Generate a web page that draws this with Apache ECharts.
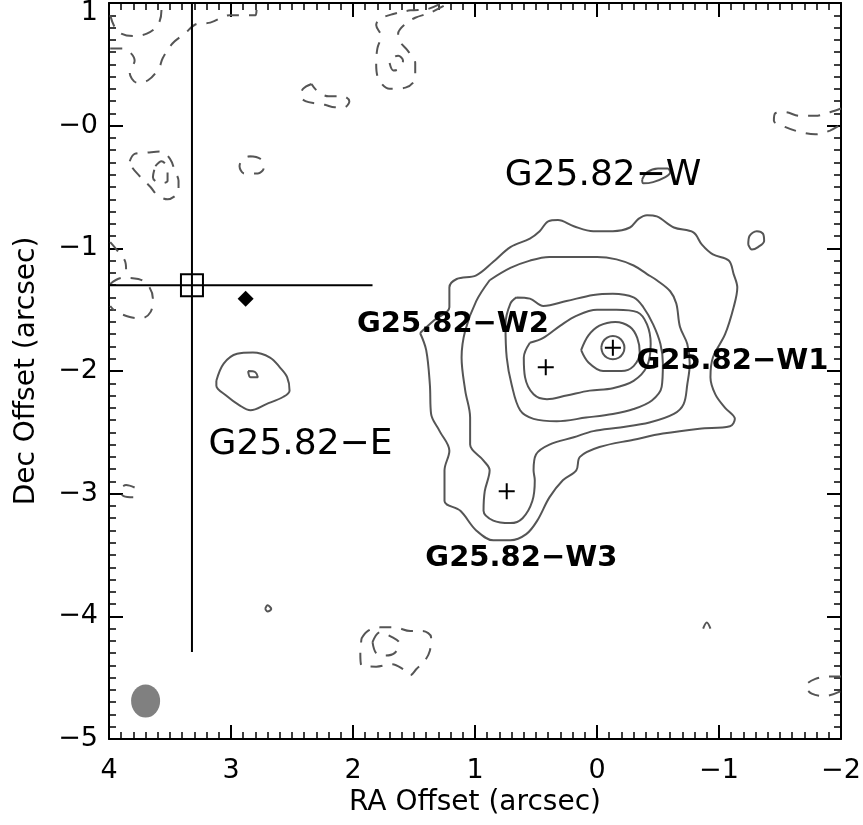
<!DOCTYPE html>
<html>
<head>
<meta charset="utf-8">
<title>G25.82 contours</title>
<script src="https://cdn.jsdelivr.net/npm/echarts@6/dist/echarts.min.js"></script>
<style>
  html, body { margin: 0; padding: 0; background: #fff; }
  #chart { width: 863px; height: 825px; }
</style>
</head>
<body>
<div id="chart"></div>
<script>
// all positions are [RA offset, Dec offset] in arcsec

// positive (solid) contours of G25.82-W, outer to inner
const wLevel1 = [[1.45,-1.69],[1.34,-1.59],[1.21,-1.48],[1.21,-1.32],[1.15,-1.25],[0.99,-1.22],[0.85,-1.11],[0.71,-0.99],[0.55,-0.92],[0.47,-0.86],[0.40,-0.78],[0.32,-0.77],[0.19,-0.82],[0.03,-0.86],[-0.13,-0.86],[-0.27,-0.83],[-0.34,-0.76],[-0.41,-0.73],[-0.49,-0.74],[-0.63,-0.83],[-0.79,-0.87],[-0.86,-0.97],[-0.95,-1.05],[-1.08,-1.10],[-1.12,-1.21],[-1.15,-1.32],[-1.12,-1.48],[-1.05,-1.70],[-0.95,-1.89],[-0.93,-2.05],[-0.97,-2.19],[-1.05,-2.30],[-1.13,-2.39],[-1.09,-2.45],[-0.84,-2.47],[-0.54,-2.51],[-0.30,-2.56],[-0.02,-2.62],[0.14,-2.70],[0.17,-2.81],[0.28,-2.89],[0.39,-3.03],[0.49,-3.22],[0.58,-3.33],[0.71,-3.38],[0.85,-3.38],[0.99,-3.30],[1.12,-3.14],[1.25,-3.06],[1.25,-2.81],[1.21,-2.65],[1.29,-2.49],[1.36,-2.35],[1.37,-2.11],[1.40,-1.83],[1.45,-1.69]];
const wLevel2 = [[0.88,-1.26],[0.71,-1.16],[0.55,-1.10],[0.39,-1.07],[0.19,-1.07],[0.00,-1.07],[-0.16,-1.09],[-0.30,-1.14],[-0.41,-1.21],[-0.49,-1.26],[-0.60,-1.35],[-0.65,-1.45],[-0.68,-1.64],[-0.74,-1.78],[-0.76,-1.94],[-0.74,-2.11],[-0.71,-2.27],[-0.63,-2.35],[-0.43,-2.42],[-0.19,-2.46],[0.03,-2.49],[0.19,-2.54],[0.39,-2.60],[0.50,-2.68],[0.52,-2.81],[0.51,-2.89],[0.53,-3.06],[0.61,-3.20],[0.71,-3.24],[0.85,-3.22],[0.93,-3.14],[0.92,-2.98],[0.88,-2.81],[0.93,-2.73],[1.04,-2.60],[1.04,-2.38],[1.08,-2.16],[1.11,-1.89],[1.08,-1.67],[0.99,-1.43],[0.88,-1.26]];
const wLevel3 = [[0.66,-1.40],[0.71,-1.45],[0.75,-1.62],[0.74,-1.89],[0.70,-2.11],[0.63,-2.32],[0.52,-2.39],[0.33,-2.41],[0.09,-2.38],[-0.13,-2.35],[-0.30,-2.31],[-0.45,-2.24],[-0.53,-2.13],[-0.54,-1.94],[-0.52,-1.78],[-0.46,-1.62],[-0.38,-1.48],[-0.30,-1.40],[-0.13,-1.37],[0.03,-1.38],[0.25,-1.43],[0.44,-1.47],[0.55,-1.41],[0.66,-1.40]];
const wLevel4 = [[0.55,-1.77],[0.60,-1.89],[0.59,-2.05],[0.52,-2.19],[0.41,-2.23],[0.25,-2.20],[0.06,-2.16],[-0.13,-2.14],[-0.30,-2.08],[-0.41,-1.96],[-0.44,-1.78],[-0.41,-1.62],[-0.33,-1.52],[-0.16,-1.50],[0.00,-1.50],[0.17,-1.55],[0.30,-1.63],[0.44,-1.73],[0.55,-1.77]];
const wLevel5 = [[0.13,-1.83],[0.07,-1.93],[-0.05,-2.00],[-0.20,-2.00],[-0.30,-1.96],[-0.35,-1.85],[-0.33,-1.73],[-0.27,-1.64],[-0.15,-1.60],[-0.02,-1.63],[0.07,-1.71],[0.13,-1.83]];
const wLevel6 = [[-0.035,-1.81],[-0.048,-1.763],[-0.083,-1.728],[-0.13,-1.715],[-0.178,-1.728],[-0.212,-1.763],[-0.225,-1.81],[-0.212,-1.858],[-0.178,-1.892],[-0.13,-1.905],[-0.083,-1.892],[-0.048,-1.858],[-0.035,-1.81]];
const wBlob1 = [[-0.37,-0.44],[-0.41,-0.38],[-0.50,-0.35],[-0.58,-0.35],[-0.60,-0.38],[-0.56,-0.42],[-0.46,-0.46],[-0.38,-0.47],[-0.37,-0.44]];
const wBlob2 = [[-1.24,-0.97],[-1.25,-0.90],[-1.31,-0.86],[-1.36,-0.88],[-1.37,-0.94],[-1.32,-0.99],[-1.27,-1.01],[-1.24,-0.97]];
const eLevel1 = [[3.12,-2.08],[3.06,-1.94],[2.95,-1.86],[2.82,-1.85],[2.68,-1.89],[2.60,-1.97],[2.54,-2.05],[2.52,-2.16],[2.57,-2.21],[2.71,-2.27],[2.84,-2.32],[2.93,-2.28],[3.04,-2.20],[3.12,-2.12],[3.12,-2.08]];
const eLevel2 = [[2.86,-2.00],[2.80,-2.01],[2.78,-2.05],[2.84,-2.05],[2.86,-2.00]];
const speck1 = [[2.72,-3.94],[2.70,-3.91],[2.67,-3.94],[2.70,-3.96],[2.72,-3.94]];
const speck2 = [[-0.87,-4.10],[-0.90,-4.05],[-0.93,-4.10]];

// negative (dashed) contours
const negTopLeftA = [[3.99,0.90],[3.93,0.77],[3.80,0.73],[3.69,0.75],[3.60,0.82],[3.57,0.94],[3.57,0.99]];
const negTopLeftB = [[3.99,0.63],[3.89,0.63],[3.79,0.53],[3.83,0.43],[3.77,0.35],[3.68,0.37],[3.59,0.47],[3.56,0.55],[3.48,0.67],[3.38,0.75],[3.28,0.83],[3.17,0.84],[3.01,0.90],[2.94,0.90],[2.80,0.90],[2.79,0.96]];
const negTopMidA = [[1.29,0.99],[1.39,0.95],[1.53,0.94],[1.67,0.91],[1.78,0.87],[1.81,0.82],[1.77,0.73],[1.80,0.63],[1.81,0.51],[1.79,0.38],[1.70,0.30],[1.57,0.31],[1.49,0.39],[1.49,0.51],[1.55,0.61],[1.62,0.69],[1.63,0.75],[1.57,0.83],[1.49,0.88],[1.37,0.92],[1.25,0.98]];
const negTopMidB = [[1.70,0.51],[1.67,0.45],[1.63,0.46],[1.59,0.53],[1.63,0.57],[1.68,0.55],[1.70,0.51]];
const negTopMidC = [[2.34,0.34],[2.41,0.30],[2.43,0.24],[2.39,0.20],[2.30,0.18],[2.23,0.17],[2.15,0.15],[2.07,0.15],[2.03,0.20],[2.08,0.24],[2.20,0.24],[2.29,0.28],[2.34,0.34]];
const negTopRight = [[-2.0,0.14],[-1.91,0.11],[-1.79,0.08],[-1.66,0.08],[-1.54,0.11],[-1.46,0.10],[-1.45,0.04],[-1.54,-0.01],[-1.66,-0.05],[-1.79,-0.07],[-1.91,-0.04],[-2.0,0.01]];
const negLeftA = [[3.83,-0.29],[3.79,-0.23],[3.69,-0.22],[3.58,-0.21],[3.50,-0.27],[3.46,-0.37],[3.43,-0.45],[3.43,-0.53],[3.52,-0.60],[3.60,-0.57],[3.66,-0.50],[3.75,-0.41],[3.81,-0.34],[3.83,-0.29]];
const negLeftB = [[3.62,-0.33],[3.57,-0.29],[3.52,-0.35],[3.52,-0.45],[3.58,-0.47],[3.64,-0.42],[3.62,-0.33]];
const negLeftC = [[2.85,-0.25],[2.76,-0.27],[2.73,-0.34],[2.78,-0.39],[2.89,-0.39],[2.93,-0.33],[2.90,-0.27],[2.85,-0.25]];
const negEdgeA = [[3.99,-0.95],[3.93,-1.02],[3.87,-1.10],[3.86,-1.17]];
const negEdgeB = [[3.99,-1.29],[3.89,-1.24],[3.76,-1.25],[3.68,-1.30],[3.64,-1.41],[3.66,-1.52],[3.73,-1.57],[3.83,-1.56],[3.95,-1.51],[3.99,-1.47]];
const negEdgeC = [[3.79,-2.95],[3.86,-2.93],[3.91,-2.97],[3.88,-3.02],[3.80,-3.03]];
const negBottomA = [[1.93,-4.18],[1.88,-4.12],[1.78,-4.09],[1.66,-4.09],[1.53,-4.12],[1.43,-4.12],[1.36,-4.17],[1.37,-4.28],[1.41,-4.36],[1.48,-4.43],[1.53,-4.48],[1.59,-4.43],[1.68,-4.39],[1.81,-4.41],[1.93,-4.40],[1.94,-4.30],[1.93,-4.18]];
const negBottomB = [[1.84,-4.21],[1.78,-4.13],[1.68,-4.17],[1.62,-4.22],[1.66,-4.30],[1.74,-4.32],[1.81,-4.30],[1.84,-4.21]];
const negBottomRight = [[-2.0,-4.49],[-1.91,-4.49],[-1.79,-4.51],[-1.71,-4.57],[-1.76,-4.63],[-1.87,-4.65],[-2.0,-4.61]];

const solidContours = [wLevel1, wLevel2, wLevel3, wLevel4, wLevel5, wLevel6, wBlob1, wBlob2, eLevel1, eLevel2, speck1, speck2];
const dashedContours = [negTopLeftA, negTopLeftB, negTopMidA, negTopMidB, negTopMidC, negTopRight, negLeftA, negLeftB, negLeftC, negEdgeA, negEdgeB, negEdgeC, negBottomA, negBottomB, negBottomRight];

// markers
const peaks = [[-0.13,-1.81],[0.42,-1.97],[0.74,-2.98]];
const boxPos = [[3.32,-1.30]];
const diamondPos = [[2.88,-1.41]];
const beamPos = [[3.70,-4.69]];
const hLine = [[4.0,-1.30],[1.84,-1.30]];
const vLine = [[3.32,1.0],[3.32,-4.29]];

// source names
const labelNames = ['G25.82\u2212W', 'G25.82\u2212E', 'G25.82\u2212W2', 'G25.82\u2212W1', 'G25.82\u2212W3'];
const labelPos = [[-0.05,-0.41],[2.43,-2.60],[1.18,-1.62],[-1.11,-1.92],[0.62,-3.53]];
const labelSize = [36, 36, 29, 29, 29];
const labelWeight = ['normal', 'normal', 'bold', 'bold', 'bold'];

const xTicks = [-2, -1, 0, 1, 2, 3, 4];
const yTicks = [-5, -4, -3, -2, -1, 0, 1];

const FONT = 'DejaVu Sans';
const minus = v => (v < 0 ? '\u2212' + (-v) : String(v));

function axisBase(extra) {
  return Object.assign({
    type: 'value',
    interval: 1,
    axisLine: { show: true, onZero: false, lineStyle: { color: '#000', width: 2 } },
    axisTick: { show: true, inside: true, length: 14, lineStyle: { color: '#000', width: 2 } },
    minorTick: { show: true, splitNumber: 10, length: 7, lineStyle: { color: '#000', width: 1.5 } },
    splitLine: { show: false },
    minorSplitLine: { show: false }
  }, extra);
}

let chart = echarts.init(document.getElementById('chart'), null, { renderer: 'canvas' });

let series = [];
solidContours.forEach(c => {
  series.push({
    type: 'line', data: c, symbol: 'none', smooth: 0.35, silent: true, z: 2,
    lineStyle: { color: '#555', width: 2 }
  });
});
dashedContours.forEach(c => {
  series.push({
    type: 'line', data: c, symbol: 'none', smooth: 0.35, silent: true, z: 2,
    lineStyle: { color: '#555', width: 2, type: [12, 10] }
  });
});
series.push({
  type: 'line', data: hLine, symbol: 'none', silent: true, z: 3,
  lineStyle: { color: '#000', width: 2 }
});
series.push({
  type: 'line', data: vLine, symbol: 'none', silent: true, z: 3,
  lineStyle: { color: '#000', width: 2 }
});
series.push({
  type: 'scatter', data: peaks, z: 4, silent: true,
  symbol: 'path://M7,0 L9,0 L9,7 L16,7 L16,9 L9,9 L9,16 L7,16 L7,9 L0,9 L0,7 L7,7 Z',
  symbolSize: 16, itemStyle: { color: '#000', opacity: 1 }
});
series.push({
  type: 'scatter', data: boxPos, z: 4, silent: true, symbol: 'rect', symbolSize: 22,
  itemStyle: { color: 'rgba(0,0,0,0)', borderColor: '#000', borderWidth: 2, opacity: 1 }
});
series.push({
  type: 'scatter', data: diamondPos, z: 4, silent: true, symbol: 'diamond', symbolSize: 16,
  itemStyle: { color: '#000', opacity: 1 }
});
series.push({
  type: 'scatter', data: beamPos, z: 4, silent: true, symbol: 'circle', symbolSize: [29, 33],
  itemStyle: { color: '#808080', opacity: 1 }
});
series.push({
  type: 'scatter', z: 5, silent: true, symbolSize: 1,
  itemStyle: { color: 'rgba(0,0,0,0)', opacity: 1 },
  data: labelNames.map((n, i) => ({
    name: n, value: labelPos[i],
    label: { fontSize: labelSize[i], fontWeight: labelWeight[i], color: '#000' }
  })),
  label: {
    show: true, position: 'inside', formatter: p => p.name,
    color: '#000', fontFamily: FONT, align: 'center', verticalAlign: 'middle'
  }
});

let option = {
  animation: false,
  backgroundColor: '#fff',
  grid: { left: 109, right: 22, top: 3, bottom: 86, outerBoundsMode: 'none' },
  xAxis: [
    axisBase({
      position: 'bottom', min: -2, max: 4, inverse: true,
      name: 'RA Offset (arcsec)', nameLocation: 'middle', nameGap: 50,
      nameTextStyle: { fontFamily: FONT, fontSize: 28, color: '#000' },
      axisLabel: { margin: 18, fontFamily: FONT, fontSize: 27, color: '#000', formatter: minus,
        customValues: xTicks }
    }),
    axisBase({
      position: 'top', min: -2, max: 4, inverse: true,
      axisLabel: { show: false }
    })
  ],
  yAxis: [
    axisBase({
      position: 'left', min: -5, max: 1,
      name: 'Dec Offset (arcsec)', nameLocation: 'middle', nameGap: 68, nameRotate: 90,
      nameTextStyle: { fontFamily: FONT, fontSize: 28, color: '#000' },
      axisLabel: { margin: 11, fontFamily: FONT, fontSize: 27, color: '#000',
        formatter: v => (v === 1 ? '{t|1}' : v === 0 ? '\u22120' : minus(v)),
        rich: { t: { fontFamily: FONT, fontSize: 27, color: '#000', padding: [20, 0, 0, 0] } },
        customValues: yTicks }
    }),
    axisBase({
      position: 'right', min: -5, max: 1,
      axisLabel: { show: false }
    })
  ],
  series: series
};

chart.setOption(option);
</script>
</body>
</html>
